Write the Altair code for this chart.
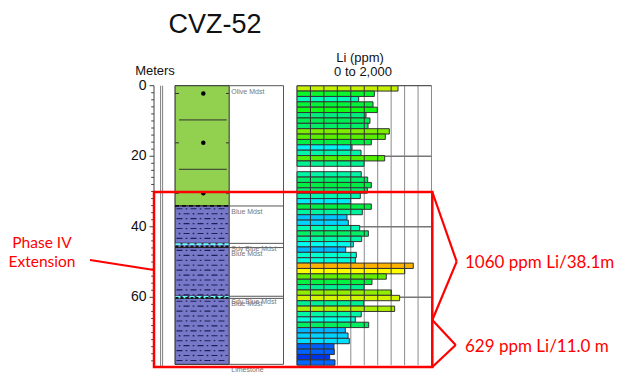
import altair as alt
import pandas as pd

# ---------------- data ----------------
title_text = "CVZ-52"
li_ppm = [1502, 1150, 917, 1130, 1194, 1026, 1085, 1056, 1373, 1313,
          1105, 818, 952, 1304, 997, None, 955, 1051, 1105, 1046,
          941, 799, 1105, 971, 743, 763, 932, 1061, 962, 837,
          724, 882, 867, 1729, 1601, 1328, 1115, 997, 1402, 1526,
          992, 1452, 955, 867, 1066, 719, 759, 778, 550, 555,
          486, 565]
sample_len_m = 1.524

lith_names = ["Olive Mdst", "Blue Mdst", "Sdy Blue Mdst", "Blue Mdst",
              "Sdy Blue Mdst", "Blue Mdst", "Limestone"]
lith_kind = ["olive", "blue", "sandy", "blue", "sandy", "blue", "limestone"]
lith_tops = [0.0, 34.1, 44.7, 45.9, 59.7, 60.3, 79.0]
lith_bots = [34.1, 44.7, 45.9, 59.7, 60.3, 79.0, 79.0]

depth_tick_values = list(range(0, 80, 2))
depth_label_values = [0, 20, 40, 60]
li_grid_values = list(range(0, 2001, 200))
li_hgrid_depths = [20, 40, 60]
olive_dot_depths = [2.2, 16.2, 30.5]
olive_line_depths = [9.7, 23.7]

interval_labels = ["1060 ppm Li/38.1m", "629 ppm Li/11.0 m"]
extension_label = ["Phase IV", "Extension"]
hl_top, hl_apex1, hl_split, hl_apex2, hl_bot = 30.14, 49.9, 66.43, 73.52, 79.75
ptr_from, ptr_to = 49.42, 52.26

# ---------------- layout ----------------
W, H = 616, 369
X0, X1 = 8, 8 + W
PXM, Y0PX = 3.527, 85.7
M_TOP = (8 - Y0PX) / PXM
M_BOT = (8 + H - Y0PX) / PXM
LI_PX0, LI_PX_PER = 297.0, 13.45 / 200

XS = alt.Scale(domain=[X0, X1], nice=False, zero=False)
XLI = alt.Scale(domain=[(X0 - LI_PX0) / LI_PX_PER, (X1 - LI_PX0) / LI_PX_PER], nice=False, zero=False)
YS = alt.Scale(domain=[M_TOP, M_BOT], reverse=True, nice=False, zero=False)

AX_X = 154.0
DBL_X = [160.6, 162.6]
LITH_X = (175.0, 229.3)
DESC_X = (229.3, 283.5)
LI_END_M = len(li_ppm) * sample_len_m


def seg(df, xscale=XS, **mk):
    return alt.Chart(df).mark_rule(**mk).encode(
        x=alt.X("x:Q", scale=xscale, axis=None), x2="x2:Q",
        y=alt.Y("y:Q", scale=YS, axis=None), y2="y2:Q")


def box(df, xscale=XS, **mk):
    return alt.Chart(df).mark_rect(**mk).encode(
        x=alt.X("x:Q", scale=xscale, axis=None), x2="x2:Q",
        y=alt.Y("y:Q", scale=YS, axis=None), y2="y2:Q")


def label(text, px, py, **mk):
    return alt.Chart(pd.DataFrame({"t": [text]})).mark_text(**mk).encode(
        text="t:N", x=alt.value(px - 8), y=alt.value(py - 8))


layers = []

# ---- Li panel grid (behind bars)
layers.append(seg(pd.DataFrame({"x": li_grid_values, "x2": li_grid_values,
                                "y": 0.0, "y2": LI_END_M}), XLI, color="#8c8c8c", strokeWidth=1))
layers.append(seg(pd.DataFrame({"x": 0, "x2": 2000, "y": li_hgrid_depths, "y2": li_hgrid_depths}),
                  XLI, color="#777777", strokeWidth=1.4))

# ---- Li bars
bars = pd.DataFrame([
    {"x": 0, "x2": v, "y": i * sample_len_m, "y2": (i + 1) * sample_len_m, "li": v}
    for i, v in enumerate(li_ppm) if v is not None])
color_scale = alt.Scale(
    domain=[480, 560, 720, 780, 840, 900, 1000, 1100, 1200, 1310, 1400, 1500, 1600, 1730],
    range=["#0030e8", "#0066ff", "#00b4ff", "#00e0ff", "#00fff0", "#00ffc4", "#00f090",
           "#00ee48", "#11ff11", "#55ee00", "#90ee00", "#c4f000", "#ffff00", "#ffb000"],
    interpolate="rgb")
layers.append(alt.Chart(bars).mark_rect(stroke="#333333", strokeWidth=1).encode(
    x=alt.X("x:Q", scale=XLI, axis=None), x2="x2:Q",
    y=alt.Y("y:Q", scale=YS, axis=None), y2="y2:Q",
    color=alt.Color("li:Q", scale=color_scale, legend=None)))

div_rows = []
for _, r in bars.iterrows():
    for g in li_grid_values:
        if 0 < g < r["li"]:
            div_rows.append({"x": g, "x2": g, "y": r["y"], "y2": r["y2"]})
layers.append(seg(pd.DataFrame(div_rows), XLI, color="#333333", strokeWidth=1))
layers.append(seg(pd.DataFrame({"x": [0], "x2": [2000], "y": [0.0], "y2": [0.0]}), XLI,
                  color="#555555", strokeWidth=1.2))

# ---- depth axis
layers.append(seg(pd.DataFrame({"x": [AX_X], "x2": [AX_X], "y": [0.0], "y2": [79.8]}),
                  color="#444444", strokeWidth=1))
ticks = pd.DataFrame({"y": depth_tick_values, "y2": depth_tick_values})
ticks["x"] = [AX_X - (4.5 if d in depth_label_values else 2.8) for d in depth_tick_values]
ticks["x2"] = AX_X
layers.append(seg(ticks, color="#444444", strokeWidth=1))
layers.append(alt.Chart(pd.DataFrame({"d": depth_label_values, "t": [str(v) for v in depth_label_values]}))
              .mark_text(align="right", baseline="middle", fontSize=14, font="Liberation Sans", color="#111")
              .encode(text="t:N", x=alt.value(146.5 - 8), y=alt.Y("d:Q", scale=YS, axis=None)))
layers.append(seg(pd.DataFrame({"x": DBL_X, "x2": DBL_X, "y": 0.0, "y2": 79.8}),
                  color="#707070", strokeWidth=0.9))

# ---- lithology column
lith = pd.DataFrame({"name": lith_names, "kind": lith_kind, "y": lith_tops, "y2": lith_bots})
lith_fill = lith[lith.kind != "limestone"].copy()
lith_fill["x"], lith_fill["x2"] = LITH_X
lith_fill["fillc"] = ["#92D050" if k == "olive" else "#7878c8" for k in lith_fill.kind]
layers.append(alt.Chart(lith_fill).mark_rect(stroke="#222222", strokeWidth=1).encode(
    x=alt.X("x:Q", scale=XS, axis=None), x2="x2:Q",
    y=alt.Y("y:Q", scale=YS, axis=None), y2="y2:Q",
    fill=alt.Fill("fillc:N", scale=None)))

# olive pattern
layers.append(seg(pd.DataFrame({"x": LITH_X[0] + 4, "x2": LITH_X[1] - 2.5,
                                "y": olive_line_depths, "y2": olive_line_depths}),
                  color="#333333", strokeWidth=1))
edge = []
for d in olive_dot_depths:
    edge.append({"x": LITH_X[0], "x2": LITH_X[0] + 4, "y": d, "y2": d})
    edge.append({"x": LITH_X[1] - 3.3, "x2": LITH_X[1], "y": d, "y2": d})
layers.append(seg(pd.DataFrame(edge), color="#333333", strokeWidth=1))
layers.append(alt.Chart(pd.DataFrame({"x": 203.3, "y": olive_dot_depths}))
              .mark_point(filled=True, color="black", size=20, opacity=1)
              .encode(x=alt.X("x:Q", scale=XS, axis=None), y=alt.Y("y:Q", scale=YS, axis=None)))

# blue mudstone pattern (dashes and dots)
rows_a, rows_b = [], []
for k, t, b in zip(lith_kind, lith_tops, lith_bots):
    if k != "blue":
        continue
    d, n = t + 0.8, 0
    while d < b - 0.4:
        (rows_a if n % 2 == 0 else rows_b).append(d)
        d += 1.4
        n += 1
for rows, dash_off, dot_off in [(rows_a, 0, 4.8), (rows_b, 7, 11.8)]:
    df = pd.DataFrame({"x": LITH_X[0] + 1.5, "x2": LITH_X[1] - 1.5, "y": rows, "y2": rows})
    layers.append(seg(df, color="#1e1e58", strokeWidth=1.1, strokeDash=[6, 8], strokeDashOffset=dash_off))
    layers.append(seg(df, color="#1e1e58", strokeWidth=1.3, strokeDash=[1.6, 12.4], strokeDashOffset=dot_off))

# sandy bands
sandy = lith[lith.kind == "sandy"]
cy = [t + 0.25 for t in sandy.y]
bk = [t + (b - t) * 0.72 for t, b in zip(sandy.y, sandy.y2)]
layers.append(seg(pd.DataFrame({"x": LITH_X[0] + 0.5, "x2": LITH_X[1] - 0.5, "y": cy, "y2": cy}),
                  color="#66ffff", strokeWidth=2.2, strokeDash=[5, 2]))
layers.append(seg(pd.DataFrame({"x": LITH_X[0] + 0.5, "x2": LITH_X[1] - 0.5, "y": bk, "y2": bk}),
                  color="#111111", strokeWidth=1.8, strokeDash=[3, 2]))
top_blue = [lith_tops[1]]
layers.append(seg(pd.DataFrame({"x": LITH_X[0], "x2": LITH_X[1], "y": top_blue, "y2": top_blue}),
                  color="#111111", strokeWidth=1.8, strokeDash=[4, 3]))

# ---- description column
layers.append(box(pd.DataFrame({"x": [DESC_X[0]], "x2": [DESC_X[1]], "y": [0.0], "y2": [lith_tops[-1]]}),
                  fill="white", stroke="#555555", strokeWidth=1))
seps = [t for t in lith_tops[1:-1]]
layers.append(seg(pd.DataFrame({"x": DESC_X[0], "x2": DESC_X[1], "y": seps, "y2": seps}),
                  color="#555555", strokeWidth=1))
layers.append(alt.Chart(lith).mark_text(align="left", baseline="top", dy=2, fontSize=7,
                                        font="Liberation Sans", color="#777777")
              .encode(text="name:N", x=alt.value(DESC_X[0] + 2 - 8), y=alt.Y("y:Q", scale=YS, axis=None)))

# ---- titles
layers.append(label(title_text, 215, 33, fontSize=27, font="Liberation Sans", color="#111",
                    align="center", baseline="alphabetic"))
layers.append(label("Meters", 155, 75, fontSize=13, font="Liberation Sans", color="#111",
                    align="center", baseline="alphabetic"))
layers.append(label("Li (ppm)", 360, 62, fontSize=13, font="Liberation Sans", color="#111",
                    align="center", baseline="alphabetic"))
layers.append(label("0 to 2,000", 363, 75.5, fontSize=13, font="Liberation Sans", color="#111",
                    align="center", baseline="alphabetic"))

# ---- red annotations
RED = "#ff0000"
layers.append(box(pd.DataFrame({"x": [AX_X], "x2": [432.3], "y": [hl_top], "y2": [hl_bot]}),
                  fillOpacity=0, stroke=RED, strokeWidth=2.5))
zig = pd.DataFrame({
    "x": [432.3, 456.7, 432.3, 455.7, 90.0],
    "y": [hl_top, hl_apex1, hl_split, hl_apex2, ptr_from],
    "x2": [456.7, 432.3, 455.7, 432.3, AX_X],
    "y2": [hl_apex1, hl_split, hl_apex2, hl_bot, ptr_to]})
layers.append(seg(zig, color=RED, strokeWidth=2.2))
layers.append(label(extension_label[0], 42, 247.7, fontSize=15.5, font="Lato", color=RED,
                    align="center", baseline="alphabetic"))
layers.append(label(extension_label[1], 42, 266.7, fontSize=15.5, font="Lato", color=RED,
                    align="center", baseline="alphabetic"))
layers.append(label(interval_labels[0], 465, 267.7, fontSize=17, font="Lato", color=RED,
                    align="left", baseline="alphabetic"))
layers.append(label(interval_labels[1], 465, 351.7, fontSize=17, font="Lato", color=RED,
                    align="left", baseline="alphabetic"))

chart = (alt.layer(*layers)
         .resolve_scale(x="independent")
         .properties(width=W, height=H, padding=0, background="white",
                     autosize=alt.AutoSizeParams(type="none"))
         .configure_view(stroke=None))

chart.save("out.html", embed_options={"renderer": "svg", "actions": False})
